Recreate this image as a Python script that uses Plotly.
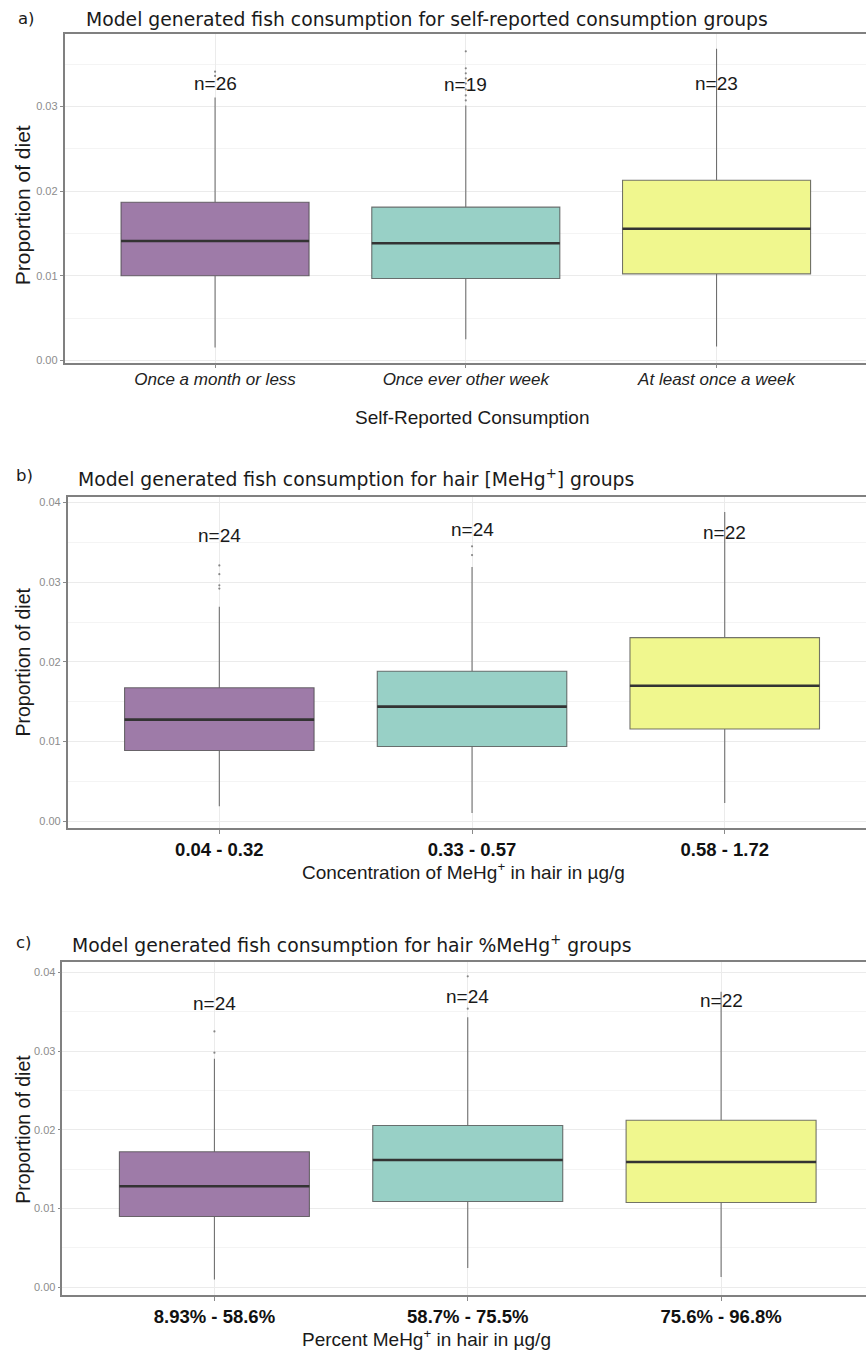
import plotly.graph_objects as go

# ---------------- data ----------------
cats_a = ["Once a month or less", "Once ever other week", "At least once a week"]
cats_b = ["0.04 - 0.32", "0.33 - 0.57", "0.58 - 1.72"]
cats_c = ["8.93% - 58.6%", "58.7% - 75.5%", "75.6% - 96.8%"]

n_a = [26, 19, 23]
n_b = [24, 24, 22]
n_c = [24, 24, 22]

a_low = [0.00153, 0.00250, 0.00165]
a_q1 = [0.00999, 0.00967, 0.01022]
a_med = [0.01410, 0.01383, 0.01555]
a_q3 = [0.01868, 0.01810, 0.02127]
a_high = [0.03106, 0.03010, 0.03680]
a_out = [[0.0341, 0.0336],
         [0.0365, 0.0345, 0.0339, 0.0333, 0.0327, 0.0320, 0.0313, 0.0307],
         []]
a_nlab = [0.0327, 0.0326, 0.0327]

b_low = [0.00188, 0.00104, 0.00229]
b_q1 = [0.00888, 0.00938, 0.01158]
b_med = [0.01275, 0.01438, 0.01700]
b_q3 = [0.01675, 0.01883, 0.02304]
b_high = [0.02690, 0.03190, 0.03880]
b_out = [[0.0321, 0.0310, 0.0296, 0.0292], [0.0345, 0.0334], []]
b_nlab = [0.0358, 0.0366, 0.0362]

c_low = [0.00097, 0.00245, 0.00131]
c_q1 = [0.00899, 0.01089, 0.01076]
c_med = [0.01283, 0.01616, 0.01591]
c_q3 = [0.01722, 0.02055, 0.02122]
c_high = [0.02903, 0.03430, 0.03756]
c_out = [[0.0325, 0.0298], [0.0395, 0.0354], []]
c_nlab = [0.0361, 0.0369, 0.0364]

titles = [
    "Model generated fish consumption for self-reported consumption groups",
    "Model generated fish consumption for hair [MeHg<sup>+</sup>] groups",
    "Model generated fish consumption for hair %MeHg<sup>+</sup> groups",
]
panel_tags = ["a)", "b)", "c)"]
x_titles = [
    "Self-Reported Consumption",
    "Concentration of MeHg<sup>+</sup> in hair in µg/g",
    "Percent MeHg<sup>+</sup> in hair in µg/g",
]
y_title = "Proportion of diet"

# ---------------- style / layout ----------------
W, H = 866, 1355
FONT = "Liberation Sans, Arial, sans-serif"
TFONT = "DejaVu Sans, Verdana, sans-serif"
FILLS = ["#9E7BA8", "#98D0C6", "#F0F78E"]
BOX_LINE = "rgba(70,70,70,0.75)"
MED_LINE = "#333333"
BOX_W = 0.75


def px(x):
    return x / W


def py(y):
    return 1 - y / H


panels = [
    dict(cats=cats_a, n=n_a, low=a_low, q1=a_q1, med=a_med, q3=a_q3, high=a_high,
         out=a_out, nlab=a_nlab,
         dom_x=(64.6, 866), dom_y=(32.7, 363.0), xr=(-0.6, 2.596), yr=(-0.00027, 0.0386),
         tickfont=dict(family=FONT, size=17, color="#222222", style="italic"), standoff=-4,
         title_xy=(84, 18.3), tag_xy=(16, 18), xt_xy=(472, 418), xt_anchor="center",
         yt_xy=(22, 205), yt_size=21),
    dict(cats=cats_b, n=n_b, low=b_low, q1=b_q1, med=b_med, q3=b_q3, high=b_high,
         out=b_out, nlab=b_nlab,
         dom_x=(67.7, 866), dom_y=(498.3, 830.0), xr=(-0.6, 2.559), yr=(-0.00084, 0.04063),
         tickfont=dict(family=FONT, size=18.5, color="#111111", weight="bold"), standoff=0,
         title_xy=(75.7, 478.3), tag_xy=(14, 476.7), xt_xy=(300, 873), xt_anchor="left",
         yt_xy=(23, 664), yt_size=19.5),
    dict(cats=cats_c, n=n_c, low=c_low, q1=c_q1, med=c_med, q3=c_q3, high=c_high,
         out=c_out, nlab=c_nlab,
         dom_x=(62.4, 866), dom_y=(965.0, 1299.0), xr=(-0.6, 2.572), yr=(-0.00101, 0.04127),
         tickfont=dict(family=FONT, size=18.5, color="#111111", weight="bold"), standoff=0,
         title_xy=(70, 946.7), tag_xy=(14, 945), xt_xy=(300, 1341.7), xt_anchor="left",
         yt_xy=(23, 1133), yt_size=19.5),
]

fig = go.Figure()
annotations = []
layout_axes = {}

for k, p in enumerate(panels):
    sfx = "" if k == 0 else str(k + 1)
    xref, yref = "x" + sfx, "y" + sfx
    for i in range(len(p["cats"])):
        fig.add_trace(go.Box(
            x=[i], q1=[p["q1"][i]], median=[p["med"][i]], q3=[p["q3"][i]],
            lowerfence=[p["low"][i]], upperfence=[p["high"][i]],
            width=BOX_W, whiskerwidth=0, boxpoints=False,
            fillcolor=FILLS[i], line=dict(color=BOX_LINE, width=1.1),
            xaxis=xref, yaxis=yref, showlegend=False, hoverinfo="skip",
        ))
        # thicker median line, as in ggplot
        fig.add_trace(go.Scatter(
            x=[i - BOX_W / 2, i + BOX_W / 2], y=[p["med"][i], p["med"][i]],
            mode="lines", line=dict(color=MED_LINE, width=2.6),
            xaxis=xref, yaxis=yref, showlegend=False, hoverinfo="skip",
        ))
        if p["out"][i]:
            fig.add_trace(go.Scatter(
                x=[i] * len(p["out"][i]), y=p["out"][i], mode="markers",
                marker=dict(color="rgba(90,90,90,0.7)", size=2.2),
                xaxis=xref, yaxis=yref, showlegend=False, hoverinfo="skip",
            ))
        annotations.append(dict(
            x=i, y=p["nlab"][i], xref=xref, yref=yref, text="n=%d" % p["n"][i],
            showarrow=False, font=dict(family=FONT, size=19, color="#1a1a1a"),
        ))

    layout_axes["xaxis" + sfx] = dict(
        domain=[px(p["dom_x"][0]), px(p["dom_x"][1])], range=list(p["xr"]),
        anchor=yref, tickmode="array", tickvals=list(range(len(p["cats"]))),
        ticktext=p["cats"], tickfont=p["tickfont"], ticklabelstandoff=p["standoff"],
        showgrid=True, gridcolor="#EBEBEB", gridwidth=1,
        ticks="outside", ticklen=4, tickcolor="#8a8a8a", tickwidth=1,
        showline=True, mirror=True, linecolor="#808080", linewidth=1.6,
        zeroline=False, fixedrange=True,
    )
    layout_axes["yaxis" + sfx] = dict(
        domain=[py(p["dom_y"][1]), py(p["dom_y"][0])], range=list(p["yr"]),
        anchor=xref, tick0=0, dtick=0.01, tickformat=".2f",
        tickfont=dict(family=FONT, size=11, color="#8c8c8c"),
        ticks="outside", ticklen=3, tickcolor="#8a8a8a", tickwidth=1,
        showgrid=True, gridcolor="#EBEBEB", gridwidth=1,
        minor=dict(tick0=0.005, dtick=0.01, showgrid=True, gridcolor="#F4F4F4", gridwidth=0.8),
        showline=True, mirror=False, linecolor="#808080", linewidth=1.6,
        zeroline=False, fixedrange=True,
    )

    annotations.append(dict(
        x=px(p["title_xy"][0]), y=py(p["title_xy"][1]), xref="paper", yref="paper",
        xanchor="left", yanchor="middle", text=titles[k], showarrow=False,
        font=dict(family=TFONT, size=18.8, color="#1a1a1a"),
    ))
    annotations.append(dict(
        x=px(p["tag_xy"][0]), y=py(p["tag_xy"][1]), xref="paper", yref="paper",
        xanchor="left", yanchor="middle", text=panel_tags[k], showarrow=False,
        font=dict(family=TFONT, size=16.5, color="#1a1a1a"),
    ))
    annotations.append(dict(
        x=px(p["xt_xy"][0]), y=py(p["xt_xy"][1]), xref="paper", yref="paper",
        xanchor=p["xt_anchor"], yanchor="middle", text=x_titles[k], showarrow=False,
        font=dict(family=FONT, size=19, color="#1a1a1a"),
    ))
    annotations.append(dict(
        x=px(p["yt_xy"][0]), y=py(p["yt_xy"][1]), xref="paper", yref="paper",
        xanchor="center", yanchor="middle", text=y_title, showarrow=False, textangle=-90,
        font=dict(family=FONT, size=p["yt_size"], color="#1a1a1a"),
    ))

fig.update_layout(
    width=W, height=H, margin=dict(l=0, r=0, t=0, b=0),
    paper_bgcolor="white", plot_bgcolor="white",
    showlegend=False, annotations=annotations, **layout_axes,
)

fig.write_html("out.html", config={"displayModeBar": False})
